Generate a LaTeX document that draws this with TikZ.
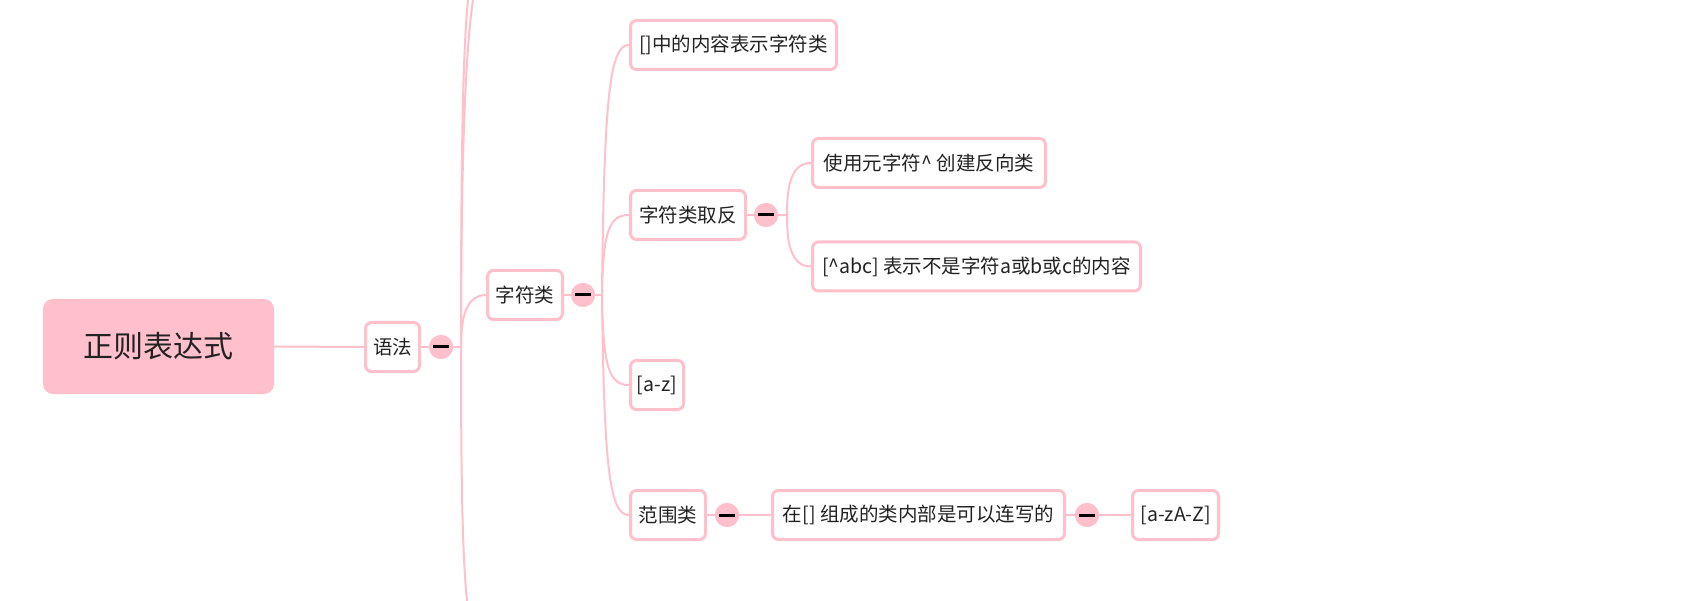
\documentclass[tikz,border=0pt]{standalone}
\usepackage{fontspec}
\newfontfamily\cjk{Noto Sans CJK SC}
\definecolor{mmpink}{HTML}{FFC0CB}
\definecolor{mmtext}{HTML}{222222}
\tikzset{
  topic/.style={draw=mmpink, line width=3pt, rounded corners=6pt, fill=white,
    minimum height=49pt, inner sep=0pt, text=mmtext, font=\cjk\fontsize{19.5}{23}\selectfont},
  rootbox/.style={fill=mmpink, rounded corners=10pt, minimum width=231pt, minimum height=95pt,
    inner sep=0pt, text=mmtext, font=\cjk\fontsize{30}{35}\selectfont},
  link/.style={draw=mmpink, line width=2pt},
  fold/.style={circle, fill=mmpink, minimum size=24pt, inner sep=0pt},
}
\newcommand{\minus}[1]{\draw[line width=3pt, black] ([xshift=-8pt]#1.center) -- ([xshift=8pt]#1.center);}
\begin{document}
\begin{tikzpicture}[x=1pt,y=-1pt]
\useasboundingbox (0,0) rectangle (1694,601);
% nodes
\node[rootbox] (root) at (158.5,346.5) {正则表达式};
\node[topic, minimum width=54pt] (yufa) at (392.5,347) {语法};
\node[fold] (c1) at (441,347) {};
\coordinate (j1) at (461,347);
\coordinate (up1) at (468,0);
\coordinate (up2) at (473,0);
\coordinate (dn1) at (467,601);
\node[topic, minimum width=75pt] (zfl) at (525,295) {字符类};
\node[fold] (c2) at (583,295) {};
\coordinate (j2) at (602,295);
\node[topic, minimum width=206pt] (n1) at (733.5,45) {[]中的内容表示字符类};
\node[topic, minimum width=115pt] (n2) at (688,215) {字符类取反};
\node[topic, minimum width=53pt] (n3) at (657,385) {[a-z]};
\node[topic, minimum width=75pt] (n4) at (668,515) {范围类};
\node[fold] (c3) at (766,215) {};
\coordinate (j3) at (787,215);
\node[topic, minimum width=233pt] (m1) at (929,163) {使用元字符\textasciicircum{} 创建反向类};
\node[topic, minimum width=328pt] (m2) at (976.5,266.5) {[\textasciicircum abc] 表示不是字符a或b或c的内容};
\node[fold] (c4) at (727,515) {};
\node[topic, minimum width=292pt] (k1) at (918.5,515) {在[] 组成的类内部是可以连写的};
\node[fold] (c5) at (1087,515) {};
\node[topic, minimum width=86pt] (k2) at (1175.5,515) {[a-zA-Z]};
% connectors
\path[link] (root.east) -- (yufa.west);
\path[link] (yufa.east) -- (c1.center) -- (j1);
\path[link] (j1) .. controls (461,150) and (463,50) .. (up1);
\path[link] (j1) .. controls (461,130) and (467,40) .. (up2);
\path[link] (j1) .. controls (461,500) and (463,560) .. (dn1);
\path[link] (j1) to[out=90,in=180] (zfl.west);
\path[link] (zfl.east) -- (c2.center) -- (j2);
\path[link] (j2) .. controls (604,95) and (610,45) .. (n1.west);
\path[link] (j2) .. controls (603,231) and (609,215) .. (n2.west);
\path[link] (j2) .. controls (603,367) and (609,385) .. (n3.west);
\path[link] (j2) .. controls (604,471) and (610,515) .. (n4.west);
\path[link] (n2.east) -- (c3.center) -- (j3);
\path[link] (j3) to[out=90,in=180] (m1.west);
\path[link] (j3) to[out=-90,in=180] (m2.west);
\path[link] (n4.east) -- (c4.center) -- (k1.west);
\path[link] (k1.east) -- (c5.center) -- (k2.west);
% fold circles on top
\foreach \c in {c1,c2,c3,c4,c5} {\fill[mmpink] (\c) circle (12pt); \minus{\c}}
\end{tikzpicture}
\end{document}
